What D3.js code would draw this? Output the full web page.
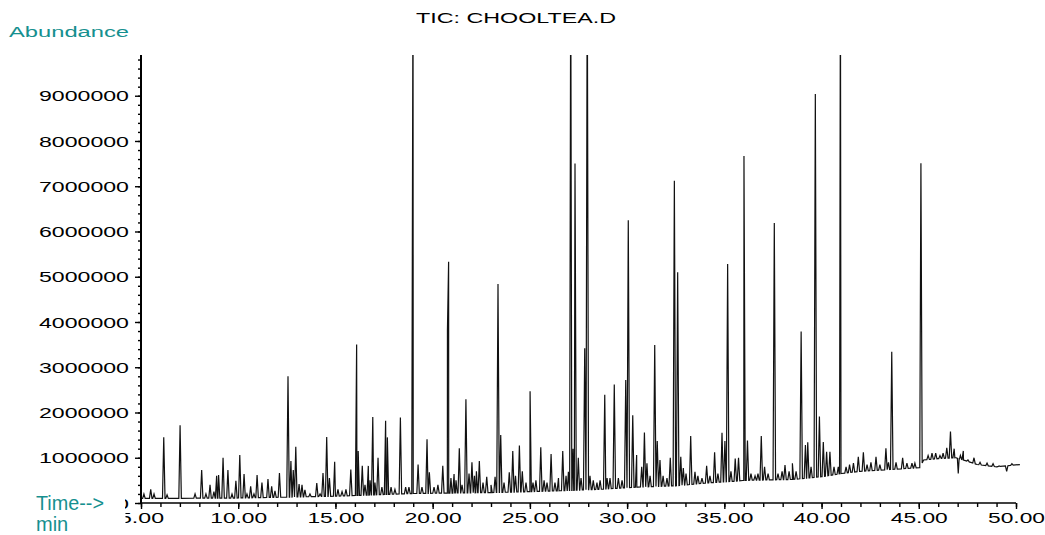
<!DOCTYPE html>
<html>
<head>
<meta charset="utf-8">
<title>TIC: CHOOLTEA.D</title>
<script src="https://cdn.jsdelivr.net/npm/d3@7/dist/d3.min.js"></script>
<style>
  html, body { margin: 0; padding: 0; background: #fff; }
  svg { display: block; }
  text { font-family: "Liberation Sans", Arial, Helvetica, sans-serif; }
</style>
</head>
<body>
<svg id="chart" width="1045" height="535"></svg>
<script>
// Total ion chromatogram: retention time (min) vs. abundance (counts)

// Peak apexes
const retentionTimes = [
  5.15, 5.50, 5.67, 6.17, 6.34, 7.01, 7.78, 8.12, 8.34, 8.55, 8.75, 8.89, 8.99, 9.22, 9.47, 9.68, 9.88,
  10.08, 10.30, 10.45, 10.64, 10.81, 10.97, 11.22, 11.53, 11.72, 11.89, 12.12, 12.56, 12.71, 12.83, 12.96,
  13.13, 13.28, 13.43, 13.69, 14.04, 14.21, 14.36, 14.55, 14.69, 14.96, 15.13, 15.34, 15.54, 15.79,
  16.09, 16.17, 16.38, 16.52, 16.69, 16.78, 16.92, 17.03, 17.19, 17.39, 17.58, 17.67, 17.86, 18.06,
  18.34, 18.61, 18.78, 18.99, 19.25, 19.45, 19.71, 19.83, 20.07, 20.27, 20.52, 20.76, 20.82, 20.94,
  21.10, 21.20, 21.37, 21.51, 21.71, 21.87, 22.02, 22.15, 22.25, 22.40, 22.59, 22.78, 23.00, 23.21,
  23.36, 23.50, 23.67, 23.94, 24.12, 24.26, 24.46, 24.61, 24.80, 25.01, 25.16, 25.31, 25.56, 25.73,
  25.88, 26.09, 26.29, 26.47, 26.69, 26.86, 26.98, 27.10, 27.22, 27.32, 27.49, 27.63, 27.82, 27.95,
  28.09, 28.26, 28.45, 28.61, 28.85, 28.97, 29.12, 29.34, 29.55, 29.74, 29.93, 30.06, 30.29, 30.49,
  30.75, 30.89, 31.02, 31.18, 31.42, 31.55, 31.69, 31.85, 32.05, 32.22, 32.43, 32.60, 32.76, 32.89,
  33.03, 33.27, 33.49, 33.64, 33.85, 34.09, 34.26, 34.50, 34.67, 34.88, 35.03, 35.17, 35.34, 35.56,
  35.73, 36.01, 36.19, 36.37, 36.58, 36.73, 36.90, 37.07, 37.25, 37.57, 37.76, 37.97, 38.12, 38.33,
  38.50, 38.69, 38.95, 39.17, 39.29, 39.46, 39.68, 39.89, 40.09, 40.26, 40.43, 40.64, 40.86, 40.97,
  41.26, 41.44, 41.64, 41.89, 42.15, 42.34, 42.54, 42.80, 43.00, 43.31, 43.44, 43.61, 43.83, 44.17,
  44.39, 44.65, 44.80, 45.11, 45.48, 45.68, 45.87, 46.09, 46.25, 46.44, 46.63, 46.82, 46.92, 47.03,
  47.14, 47.29, 47.53, 47.84, 48.15, 48.51, 48.82, 49.13, 49.52, 49.79
];

// Apex abundances; the four largest peaks run off scale
const abundances = [
  200000, 300000, 200000, 1450000, 180000, 1720000, 200000, 730000, 200000, 400000, 250000, 600000, 620000, 1000000, 730000, 200000, 490000,
  1060000, 640000, 200000, 370000, 200000, 620000, 450000, 530000, 370000, 270000, 660000, 2800000, 930000, 730000, 1240000,
  420000, 400000, 290000, 200000, 440000, 200000, 660000, 1460000, 550000, 910000, 300000, 250000, 300000, 740000,
  3500000, 1150000, 820000, 400000, 820000, 500000, 1900000, 450000, 1000000, 350000, 1820000, 1450000, 350000, 300000,
  1890000, 350000, 350000, 12000000, 850000, 350000, 1410000, 680000, 350000, 400000, 820000, 3820000, 5330000, 550000,
  640000, 500000, 1210000, 400000, 2290000, 650000, 900000, 600000, 700000, 930000, 450000, 580000, 400000, 580000,
  4840000, 1500000, 450000, 680000, 1150000, 600000, 1270000, 700000, 450000, 2470000, 450000, 500000, 1230000, 500000,
  450000, 1080000, 450000, 550000, 1150000, 600000, 690000, 12000000, 1200000, 7500000, 1000000, 550000, 3420000, 12000000,
  600000, 500000, 450000, 500000, 2390000, 550000, 550000, 2620000, 550000, 500000, 2720000, 6250000, 1940000, 1060000,
  800000, 1560000, 880000, 600000, 3490000, 1370000, 950000, 600000, 550000, 1000000, 7120000, 5100000, 1020000, 770000,
  650000, 1480000, 690000, 600000, 550000, 820000, 600000, 1120000, 650000, 1550000, 1370000, 5280000, 700000, 980000,
  1000000, 7670000, 1380000, 650000, 600000, 650000, 1480000, 800000, 650000, 6190000, 650000, 700000, 840000, 700000,
  880000, 700000, 3790000, 1280000, 1340000, 800000, 9040000, 1910000, 1350000, 1130000, 1130000, 800000, 800000, 12000000,
  800000, 850000, 880000, 1020000, 1120000, 850000, 900000, 1020000, 850000, 1210000, 900000, 3340000, 900000, 1000000,
  880000, 880000, 880000, 7510000, 1050000, 1100000, 1100000, 1050000, 1100000, 1220000, 1580000, 1200000, 1000000, 650000,
  1050000, 1150000, 950000, 1000000, 900000, 880000, 870000, 820000, 700000, 870000
];

// Baseline (drift) level between peaks
const baselineTimes  = [5.0, 10.0, 15.0, 17.0, 19.0, 21.0, 23.0, 25.0, 26.5, 28.5, 30.5, 32.5, 34.0, 35.5, 36.0, 38.5, 40.0, 41.0, 42.0, 43.5, 45.05, 45.25, 46.0, 46.9, 47.3, 48.0, 49.0, 50.2];
const baselineLevels = [100000, 110000, 150000, 180000, 210000, 220000, 230000, 250000, 270000, 300000, 350000, 380000, 440000, 480000, 500000, 520000, 580000, 650000, 700000, 740000, 780000, 950000, 980000, 1000000, 950000, 850000, 800000, 850000];

// Axis ticks
const xMinorTicks = d3.range(5, 51, 1);
const xTickLabels = ["5.00", "10.00", "15.00", "20.00", "25.00", "30.00", "35.00", "40.00", "45.00", "50.00"];
const xTickValues = [5, 10, 15, 20, 25, 30, 35, 40, 45, 50];
const yMinorTicks = d3.range(0, 9900000, 200000);
const yTickValues = [0, 1000000, 2000000, 3000000, 4000000, 5000000, 6000000, 7000000, 8000000, 9000000];
const yTickLabels = ["0", "1000000", "2000000", "3000000", "4000000", "5000000", "6000000", "7000000", "8000000", "9000000"];

const svg = d3.select("#chart");
const teal = "#16908f";

const x = d3.scaleLinear().domain([5, 50]).range([141, 1016]);
const y = d3.scaleLinear().domain([0, 9900000]).range([503, 55]);
const baseline = d3.scaleLinear().domain(baselineTimes).range(baselineLevels).clamp(true);

// Build the trace: baseline knots plus each peak as a narrow spike
const halfWidth = 0.065;
const points = baselineTimes.map((t, i) => [t, baselineLevels[i]]);
retentionTimes.forEach((t, i) => {
  points.push([t - halfWidth, baseline(t - halfWidth)]);
  points.push([t, abundances[i]]);
  points.push([t + halfWidth, baseline(t + halfWidth)]);
});
points.sort((a, b) => a[0] - b[0]);

const defs = svg.append("defs");
defs.append("clipPath").attr("id", "plot-clip")
  .append("rect").attr("x", 141).attr("y", 55).attr("width", 904).attr("height", 448);
// tick-local clip: hides label ink left of the page column x = 125 (tick sits at x = 141)
defs.append("clipPath").attr("id", "label-clip")
  .append("rect").attr("x", -16).attr("y", -100).attr("width", 1000).attr("height", 200);

svg.append("path")
  .datum(points)
  .attr("clip-path", "url(#plot-clip)")
  .attr("fill", "none")
  .attr("stroke", "#111")
  .attr("stroke-width", 1.2)
  .attr("stroke-linejoin", "miter")
  .attr("d", d3.line().x(d => x(d[0])).y(d => y(d[1])));

// Y axis
const yMinor = svg.append("g").attr("transform", "translate(141,0)")
  .call(d3.axisLeft(y).tickValues(yMinorTicks).tickSize(3).tickSizeOuter(0).tickFormat(""));
const yMajor = svg.append("g").attr("transform", "translate(141,0)")
  .call(d3.axisLeft(y).tickValues(yTickValues).tickSize(6).tickSizeOuter(0).tickPadding(6)
    .tickFormat((d, i) => yTickLabels[i]));
[yMinor, yMajor].forEach(g => {
  g.selectAll("line").attr("stroke", "#000").attr("stroke-width", 1.4);
  g.select(".domain").remove();
});
yMajor.selectAll("text")
  .attr("font-size", 14)
  .attr("font-family", "Liberation Sans, Arial, sans-serif")
  .attr("fill", "#000")
  .attr("dy", "0.36em")
  .attr("lengthAdjust", "spacingAndGlyphs")
  .attr("textLength", d => d === 0 ? 13 : 90)
  .attr("clip-path", d => d === 0 ? "url(#label-clip)" : null);
svg.append("line")
  .attr("x1", 141).attr("x2", 141).attr("y1", y(9900000)).attr("y2", y(0))
  .attr("stroke", "#000").attr("stroke-width", 2);

// X axis
const xMinor = svg.append("g").attr("transform", "translate(0,503)")
  .call(d3.axisBottom(x).tickValues(xMinorTicks).tickSize(4).tickSizeOuter(0).tickFormat(""));
const xMajor = svg.append("g").attr("transform", "translate(0,503)")
  .call(d3.axisBottom(x).tickValues(xTickValues).tickSize(6).tickSizeOuter(0).tickPadding(4)
    .tickFormat((d, i) => xTickLabels[i]));
[xMinor, xMajor].forEach(g => {
  g.selectAll("line").attr("stroke", "#000").attr("stroke-width", 1.4);
  g.select(".domain").remove();
});
xMajor.selectAll("text")
  .attr("font-size", 14)
  .attr("font-family", "Liberation Sans, Arial, sans-serif")
  .attr("fill", "#000")
  .attr("lengthAdjust", "spacingAndGlyphs")
  .attr("textLength", d => d < 10 ? 45 : 57)
  .attr("clip-path", d => d === 5 ? "url(#label-clip)" : null);
svg.append("line")
  .attr("x1", x(5)).attr("x2", x(50)).attr("y1", 503).attr("y2", 503)
  .attr("stroke", "#000").attr("stroke-width", 1.5);

// Titles
svg.append("text")
  .attr("x", 416).attr("y", 23)
  .attr("font-size", 14).attr("fill", "#000")
  .attr("textLength", 200).attr("lengthAdjust", "spacingAndGlyphs")
  .text("TIC: CHOOLTEA.D");
svg.append("text")
  .attr("x", 9).attr("y", 37)
  .attr("font-size", 14).attr("fill", teal)
  .attr("textLength", 120).attr("lengthAdjust", "spacingAndGlyphs")
  .text("Abundance");
svg.append("text")
  .attr("x", 36).attr("y", 510)
  .attr("font-size", 20).attr("fill", teal)
  .attr("textLength", 68).attr("lengthAdjust", "spacingAndGlyphs")
  .text("Time-->");
svg.append("text")
  .attr("x", 36).attr("y", 531)
  .attr("font-size", 20).attr("fill", teal)
  .text("min");
</script>
</body>
</html>
